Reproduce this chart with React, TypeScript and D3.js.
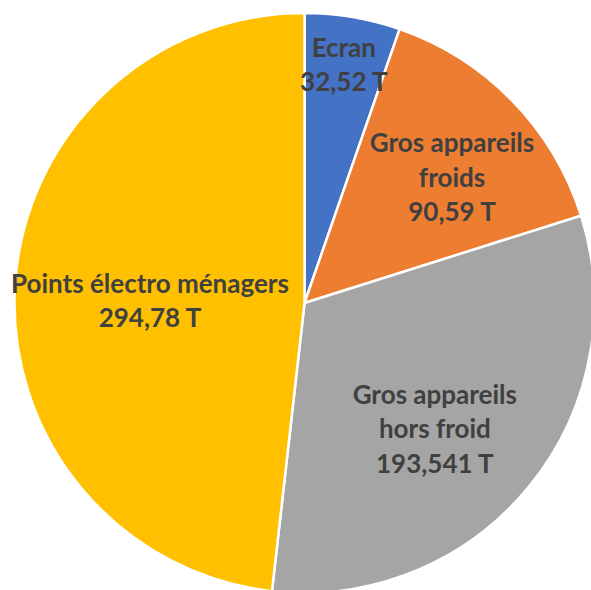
import React from "react";
import * as d3 from "d3";

const categories = ["Ecran", "Gros appareils froids", "Gros appareils hors froid", "Points électro ménagers"];
const values = [32.52, 90.59, 193.541, 294.78];
const valueLabels = ["32,52 T", "90,59 T", "193,541 T", "294,78 T"];
const labelLines = [
  ["Ecran", "32,52 T"],
  ["Gros appareils", "froids", "90,59 T"],
  ["Gros appareils", "hors froid", "193,541 T"],
  ["Points électro ménagers", "294,78 T"],
];
const colors = ["#4472C4", "#ED7D31", "#A5A5A5", "#FFC000"];

// label placement: [angle in degrees clockwise from top, fraction of radius]
const labelPolar: [number, number][] = [
  [9.4, 0.83],
  [49.8, 0.666],
  [134.2, 0.627],
  [270.5, 0.533],
];

const W = 591;
const H = 590;
const cx = 304.5;
const cy = 303;
const R = 290;
const lineGap = 34.5;

export default function App() {
  const pie = d3.pie<number>().sort(null).value((d) => d);
  const arcs = pie(values);
  const arc = d3.arc<d3.PieArcDatum<number>>().innerRadius(0).outerRadius(R);
  return (
    <svg
      width={W}
      height={H}
      style={{ position: "absolute", left: 0, top: 0, background: "#fff" }}
      fontFamily="Lato, 'Open Sans', sans-serif"
    >
      <g transform={`translate(${cx},${cy})`}>
        {arcs.map((a, i) => (
          <path key={categories[i]} d={arc(a) || ""} fill={colors[i]} stroke="#fff" strokeWidth={2.5} strokeLinejoin="round" />
        ))}
        {arcs.map((a, i) => {
          const [deg, frac] = labelPolar[i];
          const t = (deg * Math.PI) / 180;
          const lx = Math.sin(t) * R * frac;
          const ly = -Math.cos(t) * R * frac;
          const lines = labelLines[i];
          const n = lines.length;
          return (
            <text key={"l" + i} textAnchor="middle" fontSize={26} fontWeight={700} fill="#404040">
              {lines.map((s, j) => (
                <tspan key={j} x={lx} y={ly + 8.5 + (j - (n - 1) / 2) * lineGap}>
                  {s}
                </tspan>
              ))}
            </text>
          );
        })}
      </g>
    </svg>
  );
}
